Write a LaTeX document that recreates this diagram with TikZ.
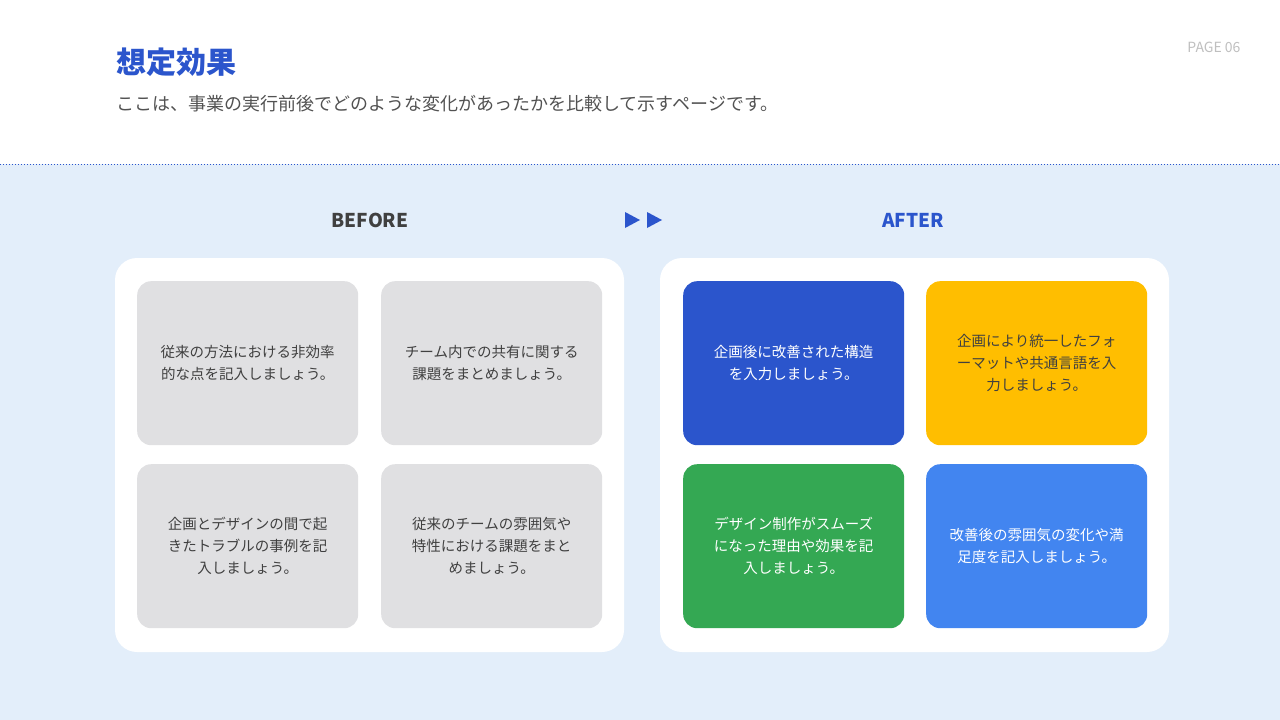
\documentclass[tikz,border=0pt]{standalone}
\usepackage{fontspec}
\setmainfont{Noto Sans CJK JP}
\definecolor{tblue}{HTML}{2B55CC}
\definecolor{bgb}{HTML}{E3EEFA}
\definecolor{cgray}{HTML}{E0E0E2}
\definecolor{cyel}{HTML}{FFBE00}
\definecolor{cgreen}{HTML}{34A853}
\definecolor{clblue}{HTML}{4285F0}
\begin{document}
\begin{tikzpicture}[x=1pt,y=-1pt,
 panel/.style={fill=white,rounded corners=22pt},
 cell/.style={rounded corners=14pt,minimum width=221pt,minimum height=164pt,inner sep=0pt,align=center,font=\fontsize{14.5}{22}\selectfont,text width=200pt,anchor=north west},
 hdr/.style={font=\fontsize{19}{22}\selectfont\bfseries}]
\useasboundingbox (0,0) rectangle (1280,720);
\fill[white] (0,0) rectangle (1280,164);
\fill[bgb] (0,164) rectangle (1280,720);
\draw[tblue,dotted,line width=1pt] (0,164) -- (1280,164);
\node[anchor=west,text=tblue,font=\fontsize{30}{34}\selectfont\bfseries] (t) at (113,62) {想定効果};
\node[anchor=west,text=black!68,font=\fontsize{18}{22}\selectfont] (s) at (113,104) {ここは、事業の実行前後でどのような変化があったかを比較して示すページです。};
\node[anchor=east,text=black!25,font=\fontsize{14}{16}\selectfont] (p) at (1244,47) {PAGE 06};
\node[hdr,text=black!75] (b) at (370,220) {BEFORE};
\node[hdr,text=tblue] (a) at (913,220) {AFTER};
\fill[tblue] (625,212) -- (640,220) -- (625,228) -- cycle;
\fill[tblue] (647,212) -- (662,220) -- (647,228) -- cycle;
\fill[panel] (115,258) rectangle (624,652);
\fill[panel] (660,258) rectangle (1169,652);
\node[cell,fill=cgray,text=black!75] (c1) at (137,281) {従来の方法における非効率\\的な点を記入しましょう。};
\node[cell,fill=cgray,text=black!75] (c2) at (381,281) {チーム内での共有に関する\\課題をまとめましょう。};
\node[cell,fill=cgray,text=black!75] (c3) at (137,464) {企画とデザインの間で起\\きたトラブルの事例を記\\入しましょう。};
\node[cell,fill=cgray,text=black!75] (c4) at (381,464) {従来のチームの雰囲気や\\特性における課題をまと\\めましょう。};
\node[cell,fill=tblue,text=white] (d1) at (683,281) {企画後に改善された構造\\を入力しましょう。};
\node[cell,fill=cyel,text=black!75] (d2) at (926,281) {企画により統一したフォ\\ーマットや共通言語を入\\力しましょう。};
\node[cell,fill=cgreen,text=white] (d3) at (683,464) {デザイン制作がスムーズ\\になった理由や効果を記\\入しましょう。};
\node[cell,fill=clblue,text=white] (d4) at (926,464) {改善後の雰囲気の変化や満\\足度を記入しましょう。};
\end{tikzpicture}
\end{document}
